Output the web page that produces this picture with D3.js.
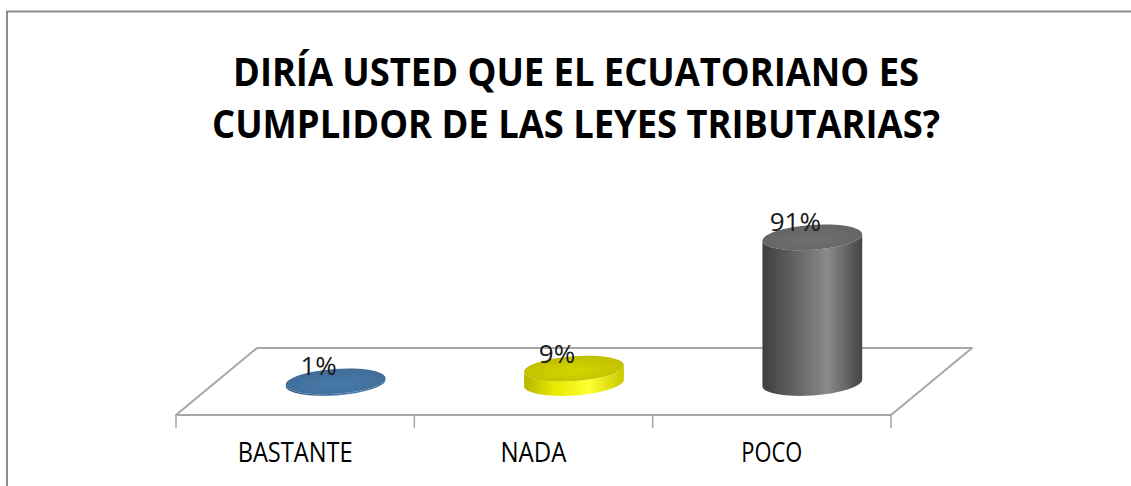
<!DOCTYPE html>
<html>
<head>
<meta charset="utf-8">
<script src="https://cdn.jsdelivr.net/npm/d3@7/dist/d3.min.js"></script>
<style>
  html, body { margin: 0; padding: 0; background: #ffffff; }
  svg { display: block; }
</style>
</head>
<body>
<svg id="chart" width="1131" height="486"></svg>
<script>
const titleLines = ["DIRÍA USTED QUE EL ECUATORIANO ES", "CUMPLIDOR DE LAS LEYES TRIBUTARIAS?"];
const categories = ["BASTANTE", "NADA", "POCO"];
const values = [1, 9, 91];
const valueLabels = ["1%", "9%", "91%"];

const FONT = "'Liberation Sans Narrow', 'Open Sans', Arial, sans-serif";
const svg = d3.select("#chart");

// frame
svg.append("path")
  .attr("d", "M7,486 L7,11.5 L1131,11.5")
  .attr("fill", "none").attr("stroke", "#8c8c8c").attr("stroke-width", 2);

// title
const titleWidths = [686, 728];
svg.append("g").selectAll("text").data(titleLines).join("text")
  .attr("x", 576)
  .attr("y", (d, i) => 86 + i * 52)
  .attr("text-anchor", "middle")
  .attr("font-family", FONT)
  .attr("font-weight", "bold")
  .attr("font-size", 40)
  .attr("fill", "#000")
  .attr("textLength", (d, i) => titleWidths[i])
  .attr("lengthAdjust", "spacingAndGlyphs")
  .text(d => d);

// scales
const floorY = 415;
const depthX = 81, depthY = -67;
const x = d3.scaleBand().domain(categories).range([176, 891]).paddingInner(0).paddingOuter(0);
const h = d3.scaleLinear().domain([0, 100]).range([0, 160]);

// floor
const x0 = x.range()[0], x1 = x.range()[1];
svg.append("path")
  .attr("d", `M${x0},${floorY} L${x0 + depthX},${floorY + depthY} L${x1 + depthX},${floorY + depthY} L${x1},${floorY} Z`)
  .attr("fill", "none").attr("stroke", "#a6a6a6").attr("stroke-width", 2).attr("stroke-linejoin", "round");

// ticks
const tickXs = [x0].concat(categories.map(c => x(c) + x.bandwidth()));
svg.append("g").selectAll("line").data(tickXs).join("line")
  .attr("x1", d => d).attr("x2", d => d)
  .attr("y1", floorY).attr("y2", floorY + 13)
  .attr("stroke", "#a6a6a6").attr("stroke-width", 1.5);

// category labels
const labelWidths = [115, 66, 61];
svg.append("g").selectAll("text").data(categories).join("text")
  .attr("x", d => x(d) + x.bandwidth() / 2)
  .attr("y", 462)
  .attr("text-anchor", "middle")
  .attr("font-family", FONT)
  .attr("font-size", 27)
  .attr("fill", "#000")
  .attr("textLength", (d, i) => labelWidths[i])
  .attr("lengthAdjust", "spacingAndGlyphs")
  .text(d => d);

// gradients
const defs = svg.append("defs");
const palettes = [
  { side: ["#2f5a82", "#44739f", "#4f80ad", "#3a6590"], top: "#44739f" },
  { side: ["#b5b500", "#e8e800", "#ffff30", "#c8c800"], top: "#c9c900" },
  { side: ["#3e3e3e", "#606060", "#8a8a8a", "#454545"], top: "#6a6a6a" }
];
palettes.forEach((p, i) => {
  const g = defs.append("linearGradient").attr("id", "side" + i)
    .attr("x1", "0%").attr("x2", "100%").attr("y1", "0%").attr("y2", "0%");
  [0, 0.3, 0.65, 1].forEach((o, k) => g.append("stop").attr("offset", o).attr("stop-color", p.side[k]));
  const r = defs.append("radialGradient").attr("id", "top" + i).attr("cx", "50%").attr("cy", "60%").attr("r", "60%");
  r.append("stop").attr("offset", 0).attr("stop-color", d3.color(p.top).brighter(0.15));
  r.append("stop").attr("offset", 1).attr("stop-color", d3.color(p.top).darker(0.15));
});

// cylinders
const rx = 50, ry = 12.5, rot = -4;
const rad = rot * Math.PI / 180;
const cyl = svg.append("g").selectAll("g").data(categories).join("g");
cyl.each(function(c, i) {
  const g = d3.select(this);
  const cx = x(c) + x.bandwidth() / 2 + depthX / 2;
  const baseY = floorY + depthY / 2 + 1.5;
  const topY = baseY - h(values[i]);
  const ex = rx * Math.cos(rad), ey = rx * Math.sin(rad);
  const Lb = [cx - ex, baseY - ey], Rb = [cx + ex, baseY + ey];
  const Lt = [cx - ex, topY - ey], Rt = [cx + ex, topY + ey];
  g.append("path")
    .attr("d", `M${Lt} L${Lb} A${rx},${ry} ${rot} 0 0 ${Rb} L${Rt} A${rx},${ry} ${rot} 0 1 ${Lt} Z`)
    .attr("fill", `url(#side${i})`);
  g.append("ellipse")
    .attr("cx", cx).attr("cy", topY).attr("rx", rx).attr("ry", ry)
    .attr("transform", `rotate(${rot},${cx},${topY})`)
    .attr("fill", `url(#top${i})`);
  g.append("text")
    .attr("x", cx - 17)
    .attr("y", topY - 6)
    .attr("text-anchor", "middle")
    .attr("font-family", FONT)
    .attr("font-size", 26)
    .attr("fill", "#1a1a1a")
    .text(valueLabels[i]);
});
</script>
</body>
</html>
